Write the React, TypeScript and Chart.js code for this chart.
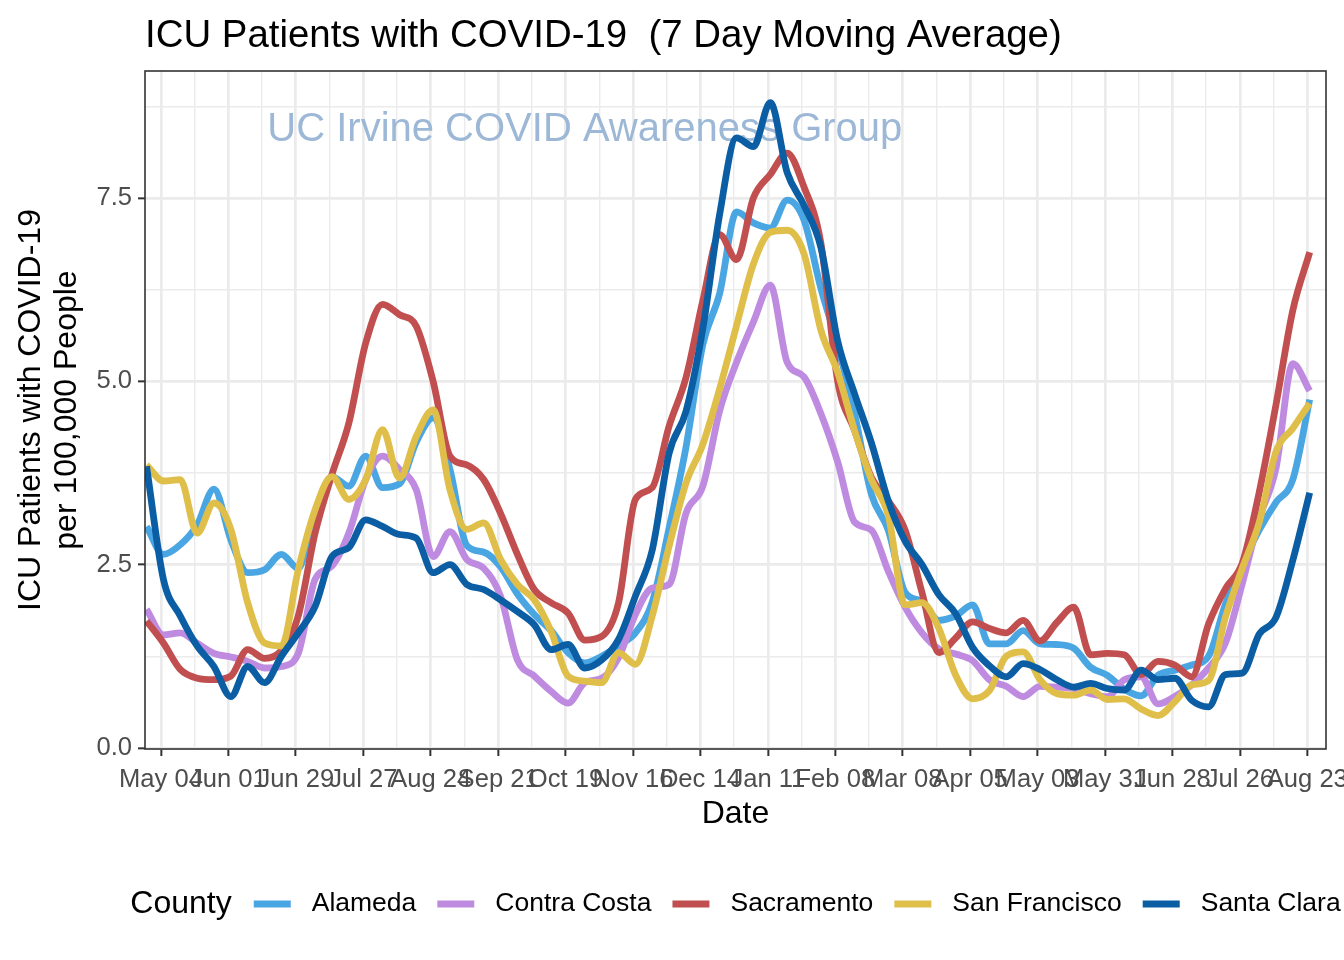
import React, { useEffect, useRef } from "react";
import { Chart, registerables } from "chart.js";

Chart.register(...registerables);

const FONT = "'Liberation Sans', Arial, Helvetica, sans-serif";

const dates = [
  "2020-04-28","2020-05-05","2020-05-12","2020-05-19","2020-05-26","2020-06-02","2020-06-09","2020-06-16","2020-06-23","2020-06-30",
  "2020-07-07","2020-07-14","2020-07-21","2020-07-28","2020-08-04","2020-08-11","2020-08-18","2020-08-25","2020-09-01","2020-09-08",
  "2020-09-15","2020-09-22","2020-09-29","2020-10-06","2020-10-13","2020-10-20","2020-10-27","2020-11-03","2020-11-10","2020-11-17",
  "2020-11-24","2020-12-01","2020-12-08","2020-12-15","2020-12-22","2020-12-29","2021-01-05","2021-01-12","2021-01-19","2021-01-26",
  "2021-02-02","2021-02-09","2021-02-16","2021-02-23","2021-03-02","2021-03-09","2021-03-16","2021-03-23","2021-03-30","2021-04-06",
  "2021-04-13","2021-04-20","2021-04-27","2021-05-04","2021-05-11","2021-05-18","2021-05-25","2021-06-01","2021-06-08","2021-06-15",
  "2021-06-22","2021-06-29","2021-07-06","2021-07-13","2021-07-20","2021-07-27","2021-08-03","2021-08-10","2021-08-17","2021-08-24",
];

const alameda = [
  3.02,2.64,2.77,3.04,3.53,2.84,2.39,2.43,2.64,2.45,
  3.20,3.70,3.57,3.98,3.55,3.60,4.17,4.50,3.80,2.76,
  2.67,2.47,2.10,1.82,1.60,1.30,1.16,1.25,1.40,1.57,
  1.99,3.00,4.10,5.50,6.20,7.31,7.16,7.09,7.47,7.20,
  6.27,5.49,4.56,3.46,2.97,2.12,2.00,1.74,1.80,1.95,
  1.42,1.42,1.60,1.42,1.41,1.36,1.10,0.99,0.80,0.71,
  0.99,1.06,1.13,1.25,1.96,2.50,2.97,3.35,3.66,4.75,
];

const contraCosta = [
  1.89,1.54,1.57,1.43,1.29,1.24,1.18,1.09,1.11,1.29,
  2.30,2.48,2.93,3.66,3.98,3.80,3.52,2.61,2.95,2.57,
  2.45,2.07,1.20,0.98,0.77,0.61,0.89,0.95,1.23,1.82,
  2.18,2.23,3.20,3.57,4.60,5.26,5.81,6.31,5.26,5.06,
  4.56,3.90,3.08,2.97,2.41,1.92,1.57,1.35,1.28,1.19,
  0.93,0.84,0.70,0.84,0.83,0.81,0.74,0.70,0.93,0.97,
  0.60,0.70,0.86,1.09,1.43,2.24,3.12,3.81,5.24,4.87,
];

const sacramento = [
  1.73,1.43,1.07,0.95,0.93,0.98,1.34,1.22,1.33,1.80,
  2.93,3.73,4.43,5.52,6.05,5.91,5.75,5.00,3.98,3.86,
  3.66,3.20,2.64,2.16,1.98,1.84,1.47,1.52,1.98,3.39,
  3.55,4.39,5.05,6.10,7.00,6.66,7.50,7.82,8.11,7.65,
  6.89,5.00,4.33,3.69,3.37,2.97,2.12,1.30,1.50,1.72,
  1.63,1.57,1.74,1.46,1.71,1.92,1.27,1.29,1.27,1.00,
  1.18,1.13,0.97,1.69,2.17,2.52,3.48,4.68,5.97,6.76,
];

const sanFrancisco = [
  3.86,3.64,3.66,2.93,3.34,2.98,1.98,1.43,1.39,2.43,
  3.25,3.70,3.39,3.66,4.34,3.68,4.25,4.61,3.52,2.98,
  3.07,2.57,2.23,2.02,1.59,0.98,0.91,0.89,1.30,1.14,
  1.80,2.75,3.61,4.14,4.90,5.76,6.60,7.03,7.06,6.74,
  5.70,5.12,4.33,3.66,3.17,1.95,1.98,1.63,0.99,0.67,
  0.78,1.25,1.31,0.93,0.74,0.72,0.79,0.66,0.67,0.53,
  0.44,0.63,0.86,0.92,1.78,2.45,3.07,4.04,4.36,4.70,
];

const santaClara = [
  3.84,2.30,1.80,1.39,1.11,0.70,1.11,0.89,1.25,1.57,
  1.93,2.61,2.73,3.11,3.02,2.91,2.86,2.39,2.50,2.23,
  2.16,2.02,1.86,1.68,1.34,1.41,1.09,1.20,1.48,2.07,
  2.70,4.02,4.59,5.72,7.28,8.32,8.20,8.80,7.85,7.40,
  6.83,5.55,4.83,4.16,3.37,2.82,2.50,2.09,1.83,1.37,
  1.12,0.97,1.15,1.07,0.93,0.83,0.88,0.81,0.79,1.06,
  0.93,0.95,0.65,0.56,1.00,1.02,1.55,1.78,2.56,3.48,
];

const countyNames = ["Alameda", "Contra Costa", "Sacramento", "San Francisco", "Santa Clara"];
const countyColors = ["#4AA6E2", "#BE8BE0", "#C14F4F", "#DFBF4A", "#0B5EA3"];
const countySeries = [alameda, contraCosta, sacramento, sanFrancisco, santaClara];

const xTickDates = [
  "2020-05-04","2020-06-01","2020-06-29","2020-07-27","2020-08-24","2020-09-21",
  "2020-10-19","2020-11-16","2020-12-14","2021-01-11","2021-02-08","2021-03-08",
  "2021-04-05","2021-05-03","2021-05-31","2021-06-28","2021-07-26","2021-08-23",
];
const xTickLabels = [
  "May 04","Jun 01","Jun 29","Jul 27","Aug 24","Sep 21",
  "Oct 19","Nov 16","Dec 14","Jan 11","Feb 08","Mar 08",
  "Apr 05","May 03","May 31","Jun 28","Jul 26","Aug 23",
];
const yTickValues = [0, 2.5, 5, 7.5];
const yTickLabels = ["0.0", "2.5", "5.0", "7.5"];
const yMinorValues = [1.25, 3.75, 6.25, 8.75];

const xLimitDays = [-6.64, 483.77];
const yLimits = [-0.015, 9.232];

const titleText = "ICU Patients with COVID-19  (7 Day Moving Average)";
const yTitleLines = ["ICU Patients with COVID-19", "per 100,000 People"];
const xTitleText = "Date";
const legendTitle = "County";
const annotationText = "UC Irvine COVID Awareness Group";
const annotationDate = "2020-10-27";
const annotationValue = 8.43;

const BASE = Date.UTC(2020, 4, 4);
const toDay = (iso: string) => (Date.parse(iso + "T00:00:00Z") - BASE) / 86400000;

const majorXDays = xTickDates.map(toDay);
const minorXDays = majorXDays.slice(0, -1).map((d) => d + 14);
const xLabelMap = new Map<number, string>();
majorXDays.forEach((d, i) => xLabelMap.set(d, xTickLabels[i]));
const yLabelMap = new Map<number, string>();
yTickValues.forEach((v, i) => yLabelMap.set(v, yTickLabels[i]));

const isMajorX = (v: number) => xLabelMap.has(v);
const isMajorY = (v: number) => yLabelMap.has(v);

const decorPlugin = {
  id: "decor",
  beforeDatasetsDraw(chart: any) {
    const { ctx, scales } = chart;
    ctx.save();
    ctx.font = `40px ${FONT}`;
    ctx.fillStyle = "#9DB8D6";
    ctx.textAlign = "center";
    ctx.textBaseline = "middle";
    ctx.fillText(
      annotationText,
      scales.x.getPixelForValue(toDay(annotationDate)),
      scales.y.getPixelForValue(annotationValue)
    );
    ctx.restore();
  },
  afterDatasetsDraw(chart: any) {
    const { ctx, chartArea } = chart;
    ctx.save();
    ctx.strokeStyle = "#333333";
    ctx.lineWidth = 1.6;
    ctx.strokeRect(
      chartArea.left,
      chartArea.top,
      chartArea.right - chartArea.left,
      chartArea.bottom - chartArea.top
    );

    ctx.fillStyle = "#000000";
    ctx.font = `38.4px ${FONT}`;
    ctx.textAlign = "left";
    ctx.textBaseline = "alphabetic";
    ctx.fillText(titleText, chartArea.left, 47);

    // legend
    const legendY = 904;
    const keyW = 37;
    const gapTitle = 22;
    const gapKeyLabel = 21;
    const gapItem = 21;
    const labelFont = `26.5px ${FONT}`;
    ctx.font = `32px ${FONT}`;
    const titleW = ctx.measureText(legendTitle).width;
    ctx.font = labelFont;
    const labelWs = countyNames.map((n) => ctx.measureText(n).width);
    let total = titleW + gapTitle;
    labelWs.forEach((w, i) => {
      total += keyW + gapKeyLabel + w + (i < labelWs.length - 1 ? gapItem : 0);
    });
    let x = (chartArea.left + chartArea.right) / 2 - total / 2;
    ctx.textBaseline = "middle";
    ctx.textAlign = "left";
    ctx.font = `32px ${FONT}`;
    ctx.fillText(legendTitle, x, legendY);
    x += titleW + gapTitle;
    ctx.font = labelFont;
    countyNames.forEach((n, i) => {
      ctx.strokeStyle = countyColors[i];
      ctx.lineWidth = 6.8;
      ctx.lineCap = "butt";
      ctx.beginPath();
      ctx.moveTo(x, legendY);
      ctx.lineTo(x + keyW, legendY);
      ctx.stroke();
      x += keyW + gapKeyLabel;
      ctx.fillStyle = "#000000";
      ctx.fillText(n, x, legendY);
      x += labelWs[i] + gapItem;
    });
    ctx.restore();
  },
};

export default function App() {
  const canvasRef = useRef<HTMLCanvasElement | null>(null);

  useEffect(() => {
    const canvas = canvasRef.current;
    if (!canvas) return;
    Chart.defaults.font.family = FONT;

    const datasets = countyNames.map((name, i) => ({
      label: name,
      data: dates.map((d, j) => ({ x: toDay(d), y: countySeries[i][j] })),
      borderColor: countyColors[i],
      backgroundColor: countyColors[i],
      borderWidth: 6.8,
      pointRadius: 0,
      pointHoverRadius: 0,
      cubicInterpolationMode: "monotone" as const,
      borderJoinStyle: "round" as const,
      order: countyNames.length - i,
    }));

    const chart = new Chart(canvas, {
      type: "line",
      data: { datasets },
      plugins: [decorPlugin],
      options: {
        animation: false,
        responsive: false,
        devicePixelRatio: 1,
        events: [],
        layout: { padding: { top: 71, right: 18, bottom: 0, left: 0 } },
        plugins: {
          legend: { display: false },
          title: { display: false },
          tooltip: { enabled: false },
        },
        scales: {
          x: {
            type: "linear",
            min: xLimitDays[0],
            max: xLimitDays[1],
            afterBuildTicks: (scale: any) => {
              const vals = [...majorXDays, ...minorXDays].sort((a, b) => a - b);
              scale.ticks = vals.map((v) => ({ value: v }));
            },
            afterFit: (scale: any) => {
              scale.height = 211;
              scale.paddingLeft = 0;
              scale.paddingRight = 0;
            },
            ticks: {
              autoSkip: false,
              maxRotation: 0,
              minRotation: 0,
              padding: 9,
              color: "#4D4D4D",
              font: { size: 25.6, family: FONT },
              callback: (v: any) => xLabelMap.get(Number(v)) ?? "",
            },
            grid: {
              color: "#EBEBEB",
              lineWidth: (c: any) => (c.tick && isMajorX(c.tick.value) ? 2.7 : 1.4),
              drawTicks: true,
              tickLength: 7,
              tickWidth: 2,
              tickColor: (c: any) =>
                c.tick && isMajorX(c.tick.value) ? "#333333" : "rgba(0,0,0,0)",
            },
            border: { display: false },
            title: {
              display: true,
              text: xTitleText,
              color: "#000000",
              font: { size: 32, family: FONT, lineHeight: 1.2 },
              padding: { top: 0, bottom: 126.5 },
            },
          },
          y: {
            type: "linear",
            min: yLimits[0],
            max: yLimits[1],
            afterBuildTicks: (scale: any) => {
              const vals = [...yTickValues, ...yMinorValues].sort((a, b) => a - b);
              scale.ticks = vals.map((v) => ({ value: v }));
            },
            afterFit: (scale: any) => {
              scale.width = 145;
              scale.paddingTop = 0;
              scale.paddingBottom = 0;
            },
            ticks: {
              autoSkip: false,
              padding: 6,
              color: "#4D4D4D",
              font: { size: 25.6, family: FONT },
              callback: (v: any) => yLabelMap.get(Number(v)) ?? "",
            },
            grid: {
              color: "#EBEBEB",
              lineWidth: (c: any) => (c.tick && isMajorY(c.tick.value) ? 2.7 : 1.4),
              drawTicks: true,
              tickLength: 7,
              tickWidth: 2,
              tickColor: (c: any) =>
                c.tick && isMajorY(c.tick.value) ? "#333333" : "rgba(0,0,0,0)",
            },
            border: { display: false },
            title: {
              display: true,
              text: yTitleLines,
              color: "#000000",
              font: { size: 32, family: FONT, lineHeight: 1.12 },
              padding: { top: 13, bottom: 0 },
            },
          },
        },
      },
    } as any);

    return () => {
      chart.destroy();
    };
  }, []);

  return (
    <div style={{ position: "fixed", left: 0, top: 0, width: 1344, height: 960, background: "#ffffff" }}>
      <canvas ref={canvasRef} width={1344} height={960} style={{ display: "block" }} />
    </div>
  );
}
